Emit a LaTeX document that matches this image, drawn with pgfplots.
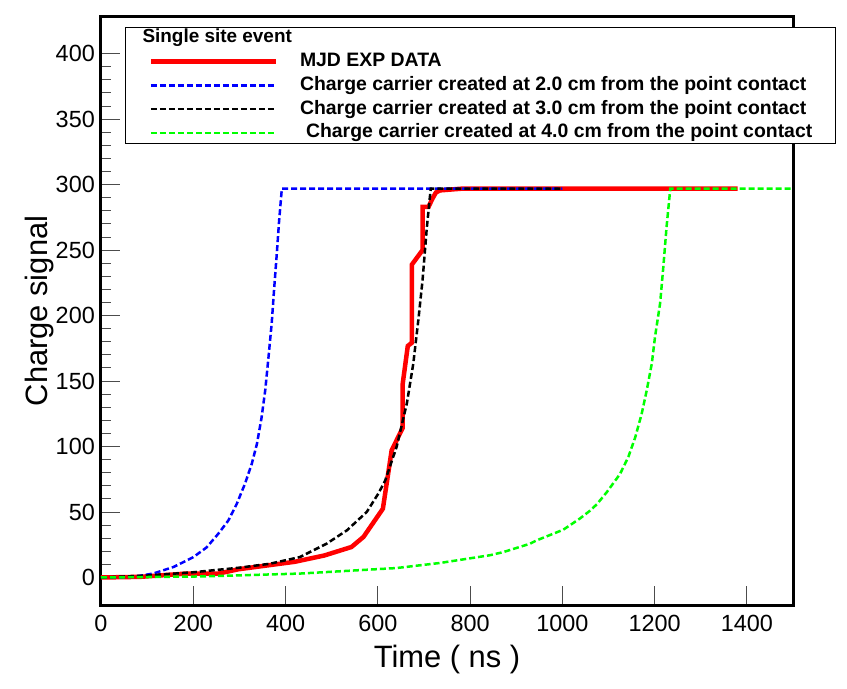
\documentclass[border=0pt]{standalone}
\usepackage{fontspec}
\setmainfont{Liberation Sans}
\usepackage{pgfplots}
\pgfplotsset{compat=1.18}
\definecolor{rootgreen}{RGB}{0,255,0}
\begin{document}
\begin{tikzpicture}
\begin{axis}[
  scale only axis, width=692bp, height=588bp,
  xmin=0, xmax=1500, ymin=-21, ymax=428,
  axis line style={line width=3bp},
  xtick={0,200,...,1400}, ytick={0,50,...,400},
  minor y tick num=4, minor x tick num=0,
  xtick pos=bottom, ytick pos=left, tick align=inside,
  major tick length=19bp, minor tick length=10bp,
  tick style={line width=1bp, color=black!70},
  /pgf/number format/assume math mode=true,
  /pgf/number format/1000 sep={},
  ticklabel style={font=\fontsize{23.5}{23.5}\selectfont, inner sep=0pt},
  yticklabel style={anchor=east, xshift=-6bp},
  xticklabel style={anchor=north, yshift=-10bp},
  xlabel={Time ( ns )}, ylabel={Charge signal},
  label style={font=\fontsize{31}{31}\selectfont},
  xlabel style={at={(axis description cs:0.5,-0.1071)}, anchor=base},
  ylabel style={at={(axis description cs:-0.078,0.5)}, anchor=base, rotate=0},
  legend cell align=left,
  legend image code/.code={\draw[#1] (0bp,0bp) -- (125bp,0bp);},
  legend style={at={(axis description cs:0.0347,0.983)}, anchor=north west,
    draw=black, line width=1bp, fill=white,
    inner xsep=23bp, inner ysep=1.5bp,
    row sep=5.75bp, column sep=22bp,
    nodes={inner sep=0pt, text height=14bp, text depth=4bp},
    font=\fontsize{19.5}{19.5}\selectfont\bfseries},
]
\addlegendimage{empty legend}
\addlegendentry{\rlap{\hspace*{-158bp}\fontsize{19}{19}\selectfont Single site event}}

\addplot[red, line width=4.5bp] coordinates {
(0,0) (85,0.5) (185,3) (255,3) (298,6.3) (420,12) (484,16.8) (543,23.3)
(569,31) (611,52.5) (630,97) (654,114.3) (654,148) (665,176.8) (674,179.3)
(674,239) (697,250) (697,283) (710,283) (718,289) (726,294) (735,295.6)
(785,297) (1380,297)
};
\addlegendentry{MJD EXP DATA}

\addplot[blue, line width=2.5bp, dash pattern=on 6bp off 3bp] coordinates {
(0,0) (40,0.1) (70,0.5) (113,3) (157,8) (200,15.5) (229,23) (254,33.3)
(276,43.5) (294,56) (312,71.5) (327,87) (338,102) (348,122) (356,143)
(363,168) (370,194) (375,219) (381,247) (386,272) (392,297) (1000,297)
};
\addlegendentry{Charge carrier created at 2.0 cm from the point contact}

\addplot[black, line width=2.5bp, dash pattern=on 6bp off 3bp] coordinates {
(0,0) (100,1.5) (200,4) (300,7.5) (366,10.5) (431,15.6) (489,25.8) (533,36)
(576,50) (601,64) (616,74) (641,100) (663,133) (677,163.5) (688,197)
(697,227) (706,266) (713,291) (715,297) (1000,297)
};
\addlegendentry{Charge carrier created at 3.0 cm from the point contact}

\addplot[rootgreen, line width=2.5bp, dash pattern=on 6bp off 3bp] coordinates {
(0,0) (215,0.8) (431,3) (640,7.2) (735,11.1) (843,17) (872,19.4) (930,25.8)
(944,28.3) (1002,36.5) (1038,45) (1060,51) (1075,56) (1096,65) (1125,79)
(1143,92) (1158,107) (1172,125) (1183,143) (1194,163.5) (1201,184)
(1212,209.5) (1219,237.5) (1226,268) (1234,297) (1500,297)
};
\addlegendentry{\hspace*{6bp}Charge carrier created at 4.0 cm from the point contact}

\coordinate (SW) at (rel axis cs:0,0);
\coordinate (NE) at (rel axis cs:1,1);
\end{axis}
\pgfresetboundingbox
\path ([shift={(-101bp,-84bp)}]SW) rectangle ([shift={(54bp,17bp)}]NE);
\end{tikzpicture}
\end{document}
